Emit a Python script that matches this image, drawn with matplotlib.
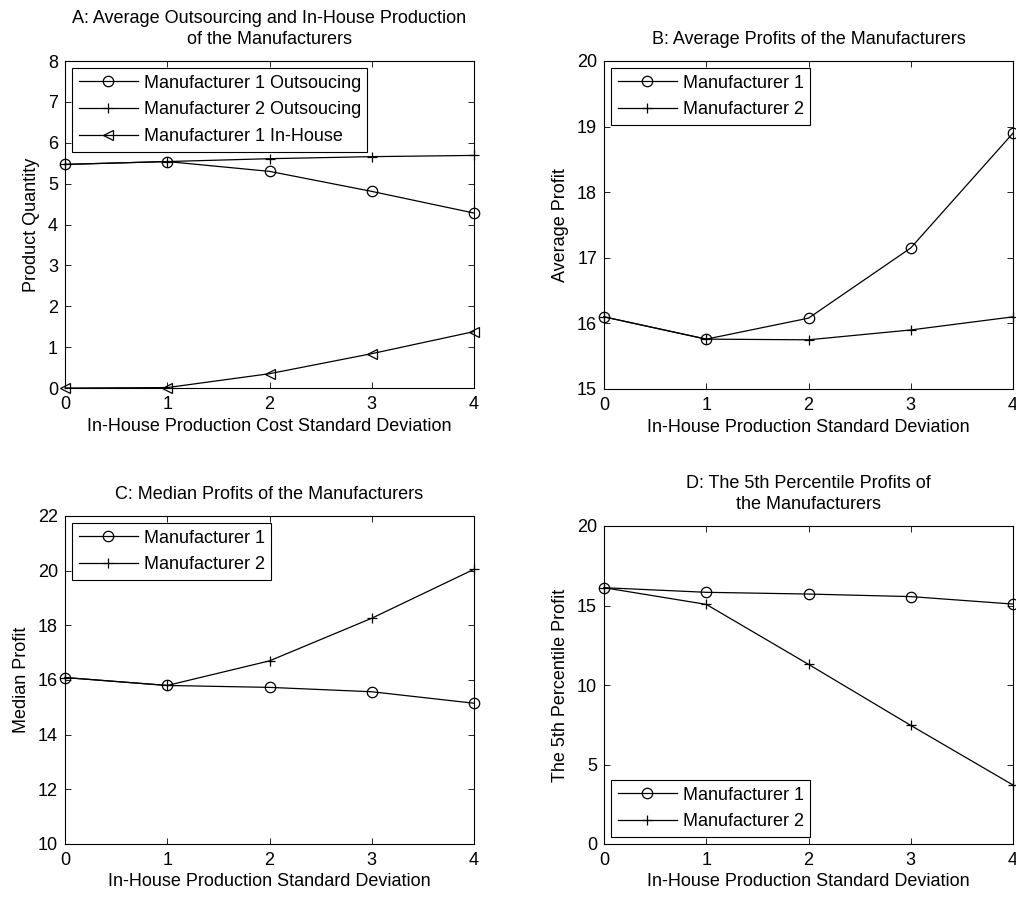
import matplotlib
matplotlib.use("Agg")
import matplotlib.pyplot as plt

plt.rcParams["font.family"] = ["Liberation Sans", "DejaVu Sans"]
plt.rcParams["font.size"] = 13

x = [0, 1, 2, 3, 4]

# A: product quantity
a_m1_out = [5.47, 5.54, 5.30, 4.81, 4.28]
a_m2_out = [5.47, 5.54, 5.61, 5.66, 5.69]
a_m1_in = [0.0, 0.01, 0.35, 0.84, 1.38]

# B: average profit
b_m1 = [16.10, 15.76, 16.08, 17.15, 18.90]
b_m2 = [16.10, 15.76, 15.75, 15.90, 16.10]

# C: median profit
c_m1 = [16.09, 15.80, 15.73, 15.57, 15.15]
c_m2 = [16.09, 15.80, 16.70, 18.26, 20.05]

# D: 5th percentile profit
d_m1 = [16.12, 15.83, 15.72, 15.56, 15.09]
d_m2 = [16.12, 15.07, 11.30, 7.46, 3.71]

W, H = 1016, 899


def make_axes(fig, left, top, right, bottom):
    ax = fig.add_axes([left / W, 1 - bottom / H, (right - left) / W, (bottom - top) / H])
    ax.tick_params(direction="in", top=True, right=True, length=4, width=0.6, pad=5)
    ax.tick_params(axis="x", pad=6)
    for s in ax.spines.values():
        s.set_linewidth(0.8)
    ax.set_xlim(0, 4)
    ax.set_xticks(x)
    return ax


def style_legend(ax, loc):
    leg = ax.legend(loc=loc, fancybox=False, edgecolor="black", framealpha=1,
                    handlelength=3.3, borderpad=0.35, labelspacing=0.55,
                    handletextpad=0.3, borderaxespad=0.4)
    leg.get_frame().set_linewidth(0.8)


def series(ax, y, marker, label):
    ax.plot(x, y, color="black", lw=0.9, marker=marker, ms=7.5,
            mfc="none", mec="black", mew=0.9, label=label, clip_on=False)


fig = plt.figure(figsize=(W / 100, H / 100), dpi=100)

# Panel A
ax = make_axes(fig, 65, 61, 474, 388)
series(ax, a_m1_out, "o", "Manufacturer 1 Outsoucing")
series(ax, a_m2_out, "+", "Manufacturer 2 Outsoucing")
series(ax, a_m1_in, "<", "Manufacturer 1 In-House")
ax.set_ylim(0, 8)
ax.set_title("A: Average Outsourcing and In-House Production\nof the Manufacturers",
             fontsize=13, pad=12, linespacing=1.35)
ax.set_xlabel("In-House Production Cost Standard Deviation", labelpad=3)
ax.set_ylabel("Product Quantity", labelpad=6)
style_legend(ax, "upper left")

# Panel B
ax = make_axes(fig, 604, 61, 1013, 389)
series(ax, b_m1, "o", "Manufacturer 1")
series(ax, b_m2, "+", "Manufacturer 2")
ax.set_ylim(15, 20)
ax.set_title("B: Average Profits of the Manufacturers", fontsize=13, pad=12)
ax.set_xlabel("In-House Production Standard Deviation", labelpad=3)
ax.set_ylabel("Average Profit", labelpad=6)
style_legend(ax, "upper left")

# Panel C
ax = make_axes(fig, 65, 516, 474, 844)
series(ax, c_m1, "o", "Manufacturer 1")
series(ax, c_m2, "+", "Manufacturer 2")
ax.set_ylim(10, 22)
ax.set_title("C: Median Profits of the Manufacturers", fontsize=13, pad=12)
ax.set_xlabel("In-House Production Standard Deviation", labelpad=3)
ax.set_ylabel("Median Profit", labelpad=6)
style_legend(ax, "upper left")

# Panel D
ax = make_axes(fig, 604, 526, 1013, 844)
series(ax, d_m1, "o", "Manufacturer 1")
series(ax, d_m2, "+", "Manufacturer 2")
ax.set_ylim(0, 20)
ax.set_yticks([0, 5, 10, 15, 20])
ax.set_title("D: The 5th Percentile Profits of\nthe Manufacturers",
             fontsize=13, pad=12, linespacing=1.3)
ax.set_xlabel("In-House Production Standard Deviation", labelpad=3)
ax.set_ylabel("The 5th Percentile Profit", labelpad=6)
style_legend(ax, "lower left")

fig.savefig("out.png", dpi=100)
